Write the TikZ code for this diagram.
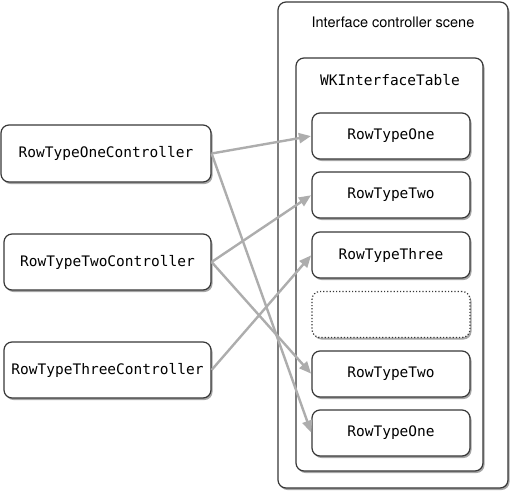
\documentclass[tikz,border=0pt]{standalone}
\usepackage{fontspec}
\newfontfamily\monofnt{DejaVu Sans Mono}
\newfontfamily\helvfnt{TeX Gyre Heros}
\usetikzlibrary{shadows,arrows.meta}
\definecolor{edgegray}{HTML}{ADADAD}
\definecolor{boxline}{HTML}{383838}
\tikzset{
  rbox/.style={draw=boxline, line width=1.2pt, rounded corners=8pt, fill=white,
    drop shadow={shadow xshift=1.5pt, shadow yshift=-2pt, opacity=0.35, fill=black},
    inner sep=0pt, font=\monofnt\fontsize{14.5}{17}\selectfont},
  rowbox/.style={rbox, minimum width=158pt, minimum height=46pt},
  ctrlbox/.style={rbox, minimum width=207pt, minimum height=56pt},
  conn/.style={draw=edgegray, line width=2.4pt, -{Triangle[length=12pt,width=10pt]}, shorten >=0.5pt},
  lbl/.style={inner sep=0pt}
}
\begin{document}
\begin{tikzpicture}[x=1pt,y=-1pt]
\useasboundingbox (0,0) rectangle (513,492);
\node[rbox, minimum width=230pt, minimum height=486pt] (scene) at (393,245) {};
\node[lbl, font=\helvfnt\fontsize{14.5}{17}\selectfont] (scenetitle) at (393,22) {Interface controller scene};
\node[rbox, minimum width=187pt, minimum height=413pt] (table) at (389.5,264.5) {};
\node[lbl, font=\monofnt\fontsize{14.5}{17}\selectfont] (tabletitle) at (390,80) {WKInterfaceTable};
\node[rowbox] (r1) at (391,136) {RowTypeOne};
\node[rowbox] (r2) at (391,195) {RowTypeTwo};
\node[rowbox] (r3) at (391,255) {RowTypeThree};
\node[rowbox, dotted] (r4) at (391,314.5) {};
\node[rowbox] (r5) at (391,374) {RowTypeTwo};
\node[rowbox] (r6) at (391,433) {RowTypeOne};
\node[ctrlbox, minimum width=210pt, minimum height=57pt] (c1) at (106,153.5) {RowTypeOneController};
\node[ctrlbox] (c2) at (107.5,262) {RowTypeTwoController};
\node[ctrlbox] (c3) at (107.5,370) {RowTypeThreeController};
\draw[conn] (c1.east) -- (r1.west);
\draw[conn] (c1.east) -- (r6.west);
\draw[conn] (c2.east) -- (r2.west);
\draw[conn] (c2.east) -- (r5.west);
\draw[conn] (c3.east) -- (r3.west);
\end{tikzpicture}
\end{document}
